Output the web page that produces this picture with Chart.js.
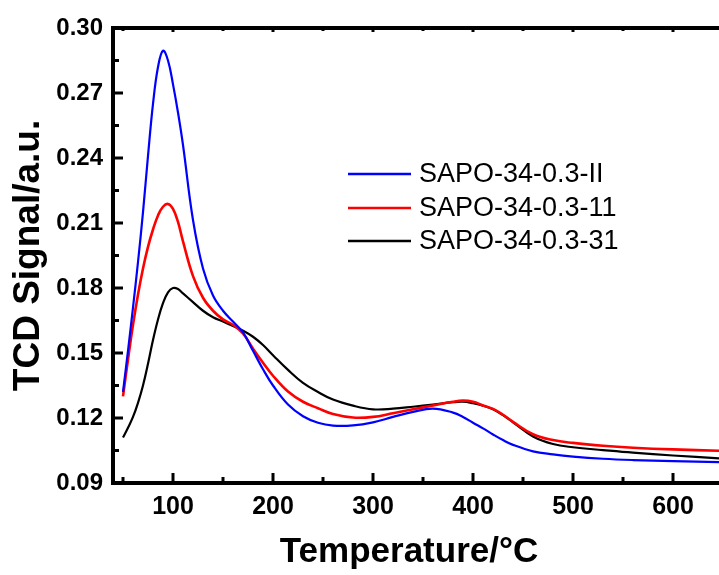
<!DOCTYPE html>
<html>
<head>
<meta charset="utf-8">
<script src="https://cdn.jsdelivr.net/npm/chart.js@4.4.1/dist/chart.umd.min.js"></script>
<style>
  html, body { margin: 0; padding: 0; background: #fff; }
  canvas { display: block; }
</style>
</head>
<body>
<canvas id="tpd" width="719" height="575"></canvas>
<script>
// temperatura (°C) y señal TCD
const temps = [50, 55, 60, 65, 70, 75, 80, 85, 90, 95, 100, 105, 110, 120, 130, 140, 150, 160, 170, 180,
  190, 200, 215, 230, 245, 260, 280, 300, 320, 340, 360, 380, 390, 400, 410, 420, 430, 440, 460, 480,
  500, 530, 560, 600, 646];
const sapoII = [0.132, 0.151, 0.171, 0.192, 0.215, 0.241, 0.265, 0.282, 0.2895, 0.285, 0.274, 0.261, 0.246, 0.2114, 0.189, 0.1765, 0.1695, 0.1645, 0.1595, 0.151,
  0.1425, 0.135, 0.1262, 0.1208, 0.1178, 0.1165, 0.1166, 0.118, 0.1205, 0.1228, 0.1243, 0.1225, 0.1205, 0.1178, 0.1152, 0.1124, 0.1098, 0.1076, 0.1046, 0.1032,
  0.1022, 0.1012, 0.1006, 0.1001, 0.0996];
const sapo11 = [0.130, 0.147, 0.163, 0.177, 0.189, 0.199, 0.207, 0.2135, 0.2175, 0.2188, 0.2165, 0.2105, 0.2015, 0.1855, 0.1755, 0.1695, 0.1655, 0.163, 0.159, 0.152,
  0.1455, 0.1395, 0.1322, 0.1275, 0.1245, 0.1218, 0.1202, 0.1205, 0.1222, 0.124, 0.1258, 0.1275, 0.128, 0.1275, 0.1258, 0.1242, 0.1215, 0.1182, 0.1125, 0.1098,
  0.1085, 0.1072, 0.1063, 0.1055, 0.1049];
const sapo31 = [0.111, 0.1155, 0.1205, 0.127, 0.135, 0.145, 0.156, 0.1655, 0.173, 0.178, 0.180, 0.1795, 0.1775, 0.1735, 0.1695, 0.1665, 0.1645, 0.1625, 0.1603, 0.1575,
  0.1537, 0.149, 0.1422, 0.1362, 0.132, 0.1285, 0.1257, 0.124, 0.1243, 0.1252, 0.1262, 0.1273, 0.1275, 0.1268, 0.1257, 0.124, 0.1213, 0.118, 0.1115, 0.108,
  0.1065, 0.1052, 0.104, 0.1027, 0.1014];

const seriesNames = ['SAPO-34-0.3-II', 'SAPO-34-0.3-11', 'SAPO-34-0.3-31'];
const seriesColors = ['#0000ff', '#ff0000', '#000000'];

const xTicks = [100, 200, 300, 400, 500, 600];
const xMinor = [50, 150, 250, 350, 450, 550];
const yTicks = [0.09, 0.12, 0.15, 0.18, 0.21, 0.24, 0.27, 0.30];
const yMinor = [0.105, 0.135, 0.165, 0.195, 0.225, 0.255, 0.285];

const xTitle = 'Temperature/°C';
const yTitle = 'TCD Signal/a.u.';

const FONT = '"Liberation Sans", Arial, sans-serif';

const toPoints = vals => temps.map((t, i) => ({ x: t, y: vals[i] }));

// marco superior, ticks hacia dentro, título X y leyenda dentro del área
const framePlugin = {
  id: 'frame',
  afterDraw(chart) {
    const { ctx, chartArea: a, scales: { x, y } } = chart;
    const seg = (x1, y1, x2, y2) => { ctx.beginPath(); ctx.moveTo(x1, y1); ctx.lineTo(x2, y2); ctx.stroke(); };
    ctx.save();
    ctx.strokeStyle = '#000';
    ctx.lineWidth = 4;
    seg(a.left - 2, a.top, a.right, a.top);

    ctx.lineWidth = 3;
    xTicks.forEach(v => { const p = x.getPixelForValue(v); seg(p, a.bottom, p, a.bottom - 10); seg(p, a.top, p, a.top + 4); });
    xMinor.forEach(v => { const p = x.getPixelForValue(v); seg(p, a.bottom, p, a.bottom - 6); seg(p, a.top, p, a.top + 3); });
    yTicks.forEach(v => { const p = y.getPixelForValue(v); seg(a.left, p, a.left + 10, p); });
    yMinor.forEach(v => { const p = y.getPixelForValue(v); seg(a.left, p, a.left + 6, p); });

    // título del eje X (algo a la izquierda del centro, como en el original)
    ctx.fillStyle = '#000';
    ctx.font = 'bold 35px ' + FONT;
    ctx.textAlign = 'center';
    ctx.textBaseline = 'middle';
    ctx.fillText(xTitle, 409, 552);

    // leyenda
    const lx = 348, tx = 419, rows = [174, 208, 241];
    ctx.font = '27px ' + FONT;
    ctx.textAlign = 'left';
    chart.data.datasets.forEach((ds, i) => {
      ctx.strokeStyle = ds.borderColor;
      ctx.lineWidth = 2.5;
      seg(lx, rows[i], 411, rows[i]);
      ctx.fillText(ds.label, tx, rows[i] + 1);
    });
    ctx.restore();
  }
};

new Chart(document.getElementById('tpd'), {
  type: 'line',
  data: {
    datasets: [
      { label: seriesNames[0], data: toPoints(sapoII), borderColor: seriesColors[0], borderWidth: 2.2 },
      { label: seriesNames[1], data: toPoints(sapo11), borderColor: seriesColors[1], borderWidth: 2.6 },
      { label: seriesNames[2], data: toPoints(sapo31), borderColor: seriesColors[2], borderWidth: 2.2 }
    ]
  },
  options: {
    responsive: false,
    animation: false,
    events: [],
    layout: { padding: { top: 28, right: 0, left: 0, bottom: 0 } },
    elements: {
      point: { radius: 0 },
      line: { tension: 0.4, fill: false }
    },
    plugins: { legend: { display: false }, tooltip: { enabled: false } },
    scales: {
      x: {
        type: 'linear',
        min: 40,
        max: 646,
        afterBuildTicks: s => { s.ticks = xTicks.map(v => ({ value: v })); },
        afterFit: s => { s.height = 92; },
        grid: { display: false, drawTicks: false },
        border: { color: '#000', width: 4 },
        ticks: {
          padding: 9,
          color: '#000',
          maxRotation: 0,
          autoSkip: false,
          font: { family: FONT, size: 25, weight: 'bold' }
        },
        title: { display: false }
      },
      y: {
        min: 0.09,
        max: 0.30,
        afterBuildTicks: s => { s.ticks = yTicks.map(v => ({ value: v })); },
        afterFit: s => { s.width = 113; },
        grid: { display: false, drawTicks: false },
        border: { color: '#000', width: 4 },
        ticks: {
          padding: 10,
          color: '#000',
          autoSkip: false,
          callback: v => v.toFixed(2),
          font: { family: FONT, size: 24, weight: 'bold' }
        },
        title: {
          display: true,
          text: yTitle,
          color: '#000',
          font: { family: FONT, size: 37, weight: 'bold', lineHeight: 1 },
          padding: { top: 10, bottom: 0 }
        }
      }
    }
  },
  plugins: [framePlugin]
});
</script>
</body>
</html>
